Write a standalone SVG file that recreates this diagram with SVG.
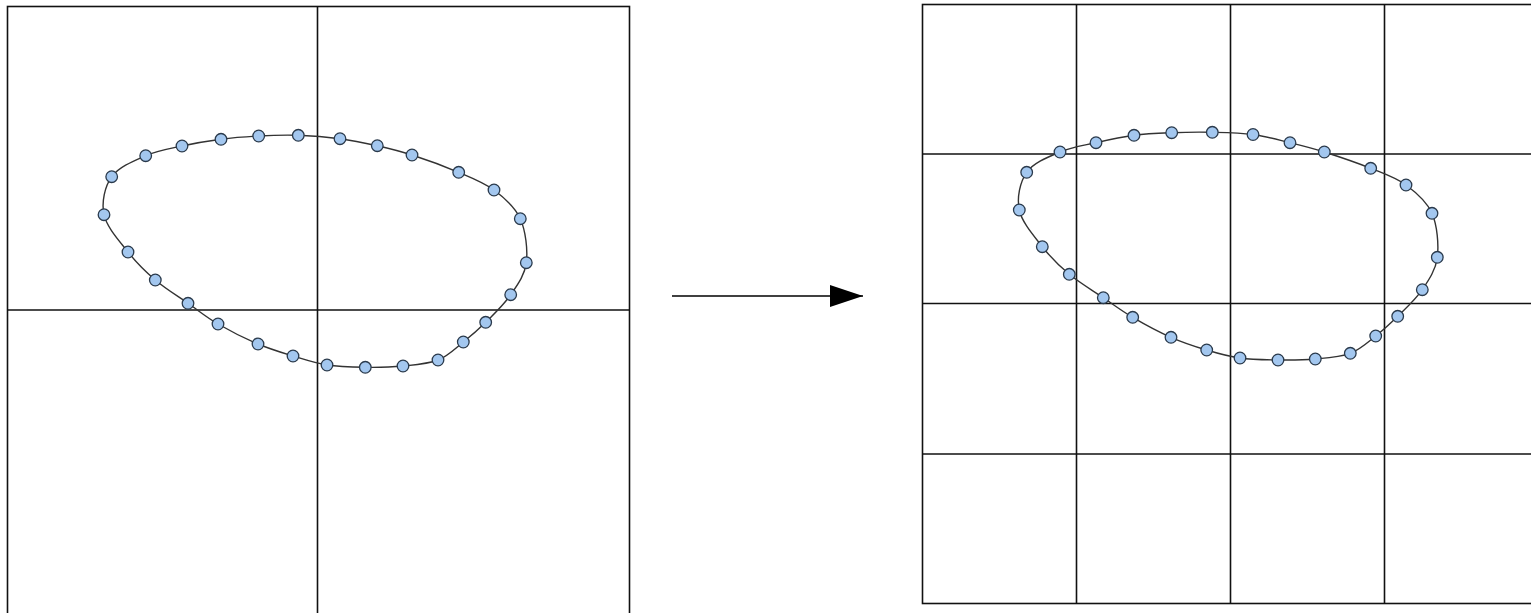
<svg xmlns="http://www.w3.org/2000/svg" width="1531" height="613" viewBox="0 0 1531 613">
<style>
.frame{fill:none;stroke:#111;stroke-width:1.6}
.grid{stroke:#111;stroke-width:1.6;fill:none}
.curve{fill:none;stroke:#333;stroke-width:1.4}
.pt{fill:#a3c7ef;stroke:#2a3a4c;stroke-width:1.3}
.conn{stroke:#000;stroke-width:1.4;fill:none}
</style>
<defs>
<marker id="arrow" markerUnits="userSpaceOnUse" markerWidth="34" markerHeight="24" refX="33" refY="12" orient="auto">
<path d="M0,1 L33,12 L0,23 Z" fill="#000"/>
</marker>
<circle id="dot" r="5.8" class="pt"/>
</defs>
<rect width="1531" height="613" fill="#fff"/>
<g id="left-panel">
<rect class="frame" x="7.5" y="6.5" width="622" height="612"/>
<line class="grid" x1="317.5" y1="6.5" x2="317.5" y2="613"/>
<line class="grid" x1="7.5" y1="310" x2="629.5" y2="310"/>
<path class="curve" d="M104,214.7 C101.3,202.2 104.8,186.5 111.7,176.7 C118.7,166.9 134,160.8 145.7,155.7 C157.4,150.6 169.5,148.7 182,146 C194.6,143.3 208.2,141 221,139.3 C233.8,137.6 245.8,136.7 258.7,136 C271.6,135.3 284.8,134.9 298.3,135.3 C311.9,135.8 326.8,137 340,138.7 C353.2,140.4 365.3,143 377.3,145.7 C389.3,148.4 398.4,150.6 412,155 C425.6,159.4 445,166.5 458.7,172.3 C472.4,178.1 483.7,182.3 494,190 C504.3,197.7 514.9,206.6 520.3,218.7 C525.7,230.8 527.9,250 526.3,262.7 C524.7,275.4 517.5,284.8 510.7,294.7 C503.9,304.6 493.6,314.4 485.7,322.3 C477.8,330.2 471.3,335.7 463.3,342 C455.4,348.3 448.1,356 438,360 C428,364 415.1,364.8 403,366 C390.9,367.2 378,367.5 365.3,367.3 C352.6,367.1 339.1,366.9 327,365 C315,363.1 304.5,359.5 293,356 C281.5,352.5 270.5,349.3 258,344 C245.5,338.7 229.7,330.8 218,324 C206.3,317.2 198.5,310.6 188,303.3 C177.6,296 165.3,288.6 155.3,280 C145.3,271.5 136.6,262.9 128,252 C119.5,241.1 106.7,227.3 104,214.7 Z"/>
<g id="left-points">
<use href="#dot" x="104" y="214.7"/><use href="#dot" x="111.7" y="176.7"/><use href="#dot" x="145.7" y="155.7"/><use href="#dot" x="182" y="146"/><use href="#dot" x="221" y="139.3"/><use href="#dot" x="258.7" y="136"/><use href="#dot" x="298.3" y="135.3"/><use href="#dot" x="340" y="138.7"/><use href="#dot" x="377.3" y="145.7"/><use href="#dot" x="412" y="155"/><use href="#dot" x="458.7" y="172.3"/><use href="#dot" x="494" y="190"/><use href="#dot" x="520.3" y="218.7"/><use href="#dot" x="526.3" y="262.7"/><use href="#dot" x="510.7" y="294.7"/><use href="#dot" x="485.7" y="322.3"/><use href="#dot" x="463.3" y="342"/><use href="#dot" x="438" y="360"/><use href="#dot" x="403" y="366"/><use href="#dot" x="365.3" y="367.3"/><use href="#dot" x="327" y="365"/><use href="#dot" x="293" y="356"/><use href="#dot" x="258" y="344"/><use href="#dot" x="218" y="324"/><use href="#dot" x="188" y="303.3"/><use href="#dot" x="155.3" y="280"/><use href="#dot" x="128" y="252"/>
</g>
</g>
<g id="right-panel">
<rect class="frame" x="922.5" y="4.5" width="620" height="599"/>
<line class="grid" x1="1076.5" y1="4.5" x2="1076.5" y2="603.5"/>
<line class="grid" x1="1230.5" y1="4.5" x2="1230.5" y2="603.5"/>
<line class="grid" x1="1384.5" y1="4.5" x2="1384.5" y2="603.5"/>
<line class="grid" x1="922.5" y1="154" x2="1531" y2="154"/>
<line class="grid" x1="922.5" y1="303.5" x2="1531" y2="303.5"/>
<line class="grid" x1="922.5" y1="454" x2="1531" y2="454"/>
<path class="curve" d="M1019.3,210 C1016.7,197.6 1019.9,182 1026.7,172.3 C1033.5,162.6 1048.5,156.9 1060,152 C1071.6,147.1 1083.7,145.5 1096,142.7 C1108.3,139.9 1121.4,137 1134,135.3 C1146.6,133.6 1158.7,133.2 1171.7,132.7 C1184.8,132.2 1198.8,132 1212.3,132.3 C1225.9,132.6 1240.1,132.8 1253,134.5 C1266,136.2 1278.1,139.8 1290,142.7 C1301.9,145.6 1310.9,147.7 1324.3,152 C1337.8,156.3 1357.1,162.8 1370.7,168.3 C1384.3,173.8 1395.8,177.5 1406,185 C1416.2,192.5 1426.8,201.3 1432,213.3 C1437.2,225.4 1438.9,244.6 1437.3,257.3 C1435.7,270 1428.9,279.9 1422.3,289.7 C1415.7,299.5 1405.5,308.6 1397.7,316.3 C1389.9,324 1383.6,329.8 1375.7,336 C1367.8,342.2 1360.4,349.5 1350.3,353.3 C1340.2,357.1 1327.4,357.9 1315.3,359 C1303.3,360.1 1290.6,360.2 1278,360 C1265.5,359.8 1251.9,359.7 1240,358 C1228.1,356.3 1218.2,353.5 1206.7,350 C1195.2,346.6 1183.3,342.8 1171,337.3 C1158.7,331.9 1144,323.9 1132.7,317.3 C1121.4,310.7 1113.9,304.9 1103.3,297.7 C1092.7,290.5 1079.5,282.8 1069.3,274.3 C1059.1,265.8 1050.6,257.4 1042.3,246.7 C1034,236 1021.9,222.4 1019.3,210 Z"/>
<g id="right-points">
<use href="#dot" x="1019.3" y="210"/><use href="#dot" x="1026.7" y="172.3"/><use href="#dot" x="1060" y="152"/><use href="#dot" x="1096" y="142.7"/><use href="#dot" x="1134" y="135.3"/><use href="#dot" x="1171.7" y="132.7"/><use href="#dot" x="1212.3" y="132.3"/><use href="#dot" x="1253" y="134.5"/><use href="#dot" x="1290" y="142.7"/><use href="#dot" x="1324.3" y="152"/><use href="#dot" x="1370.7" y="168.3"/><use href="#dot" x="1406" y="185"/><use href="#dot" x="1432" y="213.3"/><use href="#dot" x="1437.3" y="257.3"/><use href="#dot" x="1422.3" y="289.7"/><use href="#dot" x="1397.7" y="316.3"/><use href="#dot" x="1375.7" y="336"/><use href="#dot" x="1350.3" y="353.3"/><use href="#dot" x="1315.3" y="359"/><use href="#dot" x="1278" y="360"/><use href="#dot" x="1240" y="358"/><use href="#dot" x="1206.7" y="350"/><use href="#dot" x="1171" y="337.3"/><use href="#dot" x="1132.7" y="317.3"/><use href="#dot" x="1103.3" y="297.7"/><use href="#dot" x="1069.3" y="274.3"/><use href="#dot" x="1042.3" y="246.7"/>
</g>
</g>
<g id="connectors">
<line class="conn" x1="672" y1="296" x2="863" y2="296" marker-end="url(#arrow)"/>
</g>
</svg>
